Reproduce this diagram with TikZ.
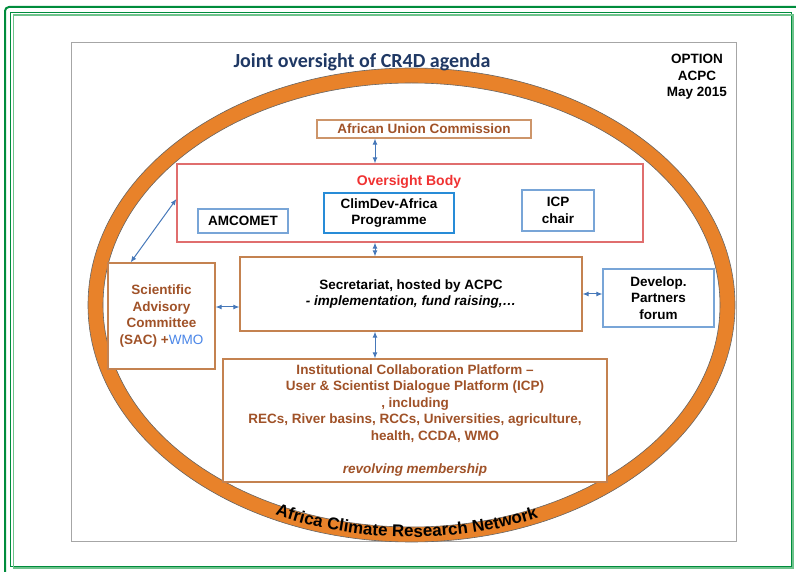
\documentclass[tikz,border=0pt]{standalone}
\usepackage{fontspec}
\setmainfont{Liberation Sans}
\newfontfamily\titlefont{Carlito}
\usepackage{tikz}
\usetikzlibrary{calc, arrows.meta, decorations.text}
\tikzset{>={Latex[length=6pt,width=5pt]}}
\definecolor{mygreen1}{RGB}{0, 140, 60}
\definecolor{mygreen2}{RGB}{110, 195, 140}
\definecolor{mygray2}{RGB}{166, 166, 166}
\definecolor{myorange}{RGB}{232, 130, 42}
\definecolor{mybrown}{RGB}{196, 130, 80}
\definecolor{mybrowntext}{RGB}{160, 82, 40}
\definecolor{myred}{RGB}{224, 110, 110}
\definecolor{myredtext}{RGB}{240, 50, 50}
\definecolor{myblue}{RGB}{120, 165, 215}
\definecolor{myblue2}{RGB}{40, 140, 215}
\definecolor{myarrow}{RGB}{70, 120, 185}
\definecolor{mytitle}{RGB}{31, 56, 100}
\definecolor{mywmo}{RGB}{74, 134, 232}
\tikzset{
  box/.style={draw, fill=white, line width=1.2pt, inner sep=0pt, align=center, font=\bfseries\fontsize{13.5}{16.5}\selectfont},
  brownbox/.style={box, draw=mybrown, text=mybrowntext},
  bluebox/.style={box, draw=myblue, text=black},
  link/.style={<->, myarrow, line width=1pt}
}

\begin{document}
\begin{tikzpicture}[x=1pt, y=1pt]
\useasboundingbox (0,0) rectangle (796,571);
% green page frame
\draw[mygreen1, line width=2, rounded corners=4] (5,564) rectangle (800,-5);
\draw[mygreen1, line width=1.2] (10.5,558.5) rectangle (791.5,4.5);
\draw[mygreen2, line width=1.5] (13.5,556) rectangle (793,3);
\draw[mygray2, line width=1] (71,528) rectangle (736,30);

% network ring
\draw[myorange, line width=15] (411.5,266) ellipse [x radius=316, y radius=229.5];
\draw[black!60, line width=0.6] (411.5,266) ellipse [x radius=323.5, y radius=237];
\draw[black!60, line width=0.6] (411.5,266) ellipse [x radius=308.5, y radius=222];
\path[decorate, decoration={text along path, text align=center,
  text={|\bfseries\fontsize{17}{20}\selectfont|Africa Climate Research Network}}]
  (411.5,266) ++(229:318.5 and 232) arc[start angle=229, end angle=309, x radius=318.5, y radius=232];

\node[anchor=base, font=\titlefont\bfseries\fontsize{20}{24}\selectfont, text=mytitle] (title) at (362,503) {Joint oversight of CR4D agenda};
\node[align=center, font=\bfseries\fontsize{13.5}{16.5}\selectfont] (option) at (697,494) {OPTION\\ACPC\\May 2015};

\node[brownbox, draw=mybrown!85, minimum width=214, minimum height=18] (auc) at (424,442) {\raisebox{-4pt}{African Union Commission}};
\node[box, draw=myred, minimum width=466, minimum height=78] (oversight) at (410,368) {};
\node[font=\bfseries\fontsize{14}{16}\selectfont, text=myredtext, anchor=base] (oversighttitle) at (409,385) {Oversight Body};
\node[bluebox, minimum width=90, minimum height=24] (amcomet) at (243,350) {AMCOMET};
\node[bluebox, draw=myblue2, minimum width=130, minimum height=40] (climdev) at (389,358) {ClimDev-Africa\\Programme};
\node[bluebox, minimum width=72, minimum height=41] (icpchair) at (558,360.5) {ICP\\chair};

\node[box, draw=mybrown, minimum width=342, minimum height=74] (secretariat) at (411,277) {Secretariat, hosted by ACPC\\\textit{- implementation, fund raising,…}};
\node[brownbox, minimum width=107, minimum height=106] (sac) at (161.5,255) {Scientific\\Advisory\\Committee\\(SAC) +{\mdseries\color{mywmo}WMO}};
\node[bluebox, minimum width=111, minimum height=58] (develop) at (658.5,273) {Develop.\\Partners\\forum};
\node[brownbox, minimum width=384, minimum height=123] (icp) at (415,150.5) {Institutional Collaboration Platform --\\User \& Scientist Dialogue Platform (ICP)\\, including\\RECs, River basins, RCCs, Universities, agriculture,\\\hspace*{40pt}health, CCDA, WMO\\[16.5pt]\textit{revolving membership}};

% links
\coordinate (spine) at (375,0);
\coordinate (sacrow) at (0,264);
\draw[link] (auc.south -| spine) -- (oversight.north -| spine);
\draw[link] (oversight.south -| spine) -- (secretariat.north -| spine);
\draw[link] (secretariat.south -| spine) -- (icp.north -| spine);
\draw[link] (sac.east |- sacrow) -- (secretariat.west |- sacrow);
\draw[link] (secretariat.east) -- (secretariat.east -| develop.west);
\draw[link] ($(sac.north west)!0.215!(sac.north east)$) -- ([yshift=4]oversight.west);
\end{tikzpicture}
\end{document}
